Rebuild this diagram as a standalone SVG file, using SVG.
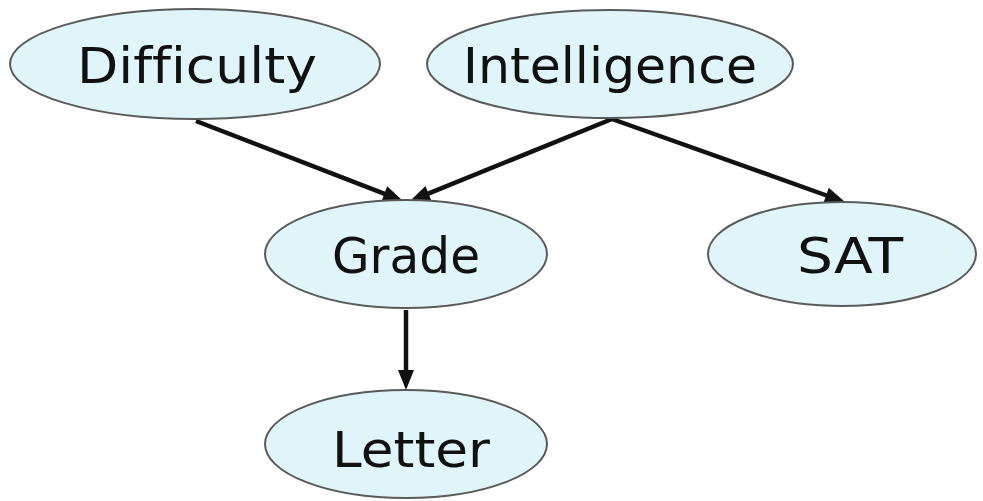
<svg xmlns="http://www.w3.org/2000/svg" width="983" height="501" viewBox="0 0 983 501">
  <style>
    .node ellipse { fill: #e0f5f9; stroke: #5a5a5a; stroke-width: 2; }
    .node text { font-family: "DejaVu Sans", "Liberation Sans", sans-serif; font-size: 50px; fill: #111; text-anchor: middle; font-variant-ligatures: none; }
    .edge { stroke: #111; stroke-width: 4.5; fill: none; }
    .head { fill: #111; stroke: none; }
  </style>
  <rect width="983" height="501" fill="#ffffff"/>

  <g id="connectors">
    <!-- Difficulty -> Grade -->
    <line class="edge" x1="196" y1="121" x2="386" y2="194.4"/>
    <polygon class="head" points="403,201 381.5,201.3 387.2,186.3"/>
    <!-- Intelligence -> Grade -->
    <line class="edge" x1="612" y1="119" x2="427" y2="194.1"/>
    <polygon class="head" points="410,201 425.5,186.1 431.5,200.9"/>
    <!-- Intelligence -> SAT -->
    <line class="edge" x1="612" y1="119" x2="828" y2="196"/>
    <polygon class="head" points="845,202 823.5,202.8 828.8,187.8"/>
    <!-- Grade -> Letter -->
    <line class="edge" x1="406" y1="310" x2="406" y2="372"/>
    <polygon class="head" points="406,390 398,370 414,370"/>
  </g>

  <g id="difficulty" class="node">
    <ellipse cx="195" cy="64" rx="185" ry="55"/>
    <text x="197" y="83" textLength="240" lengthAdjust="spacingAndGlyphs">Difficulty</text>
  </g>
  <g id="intelligence" class="node">
    <ellipse cx="610" cy="64" rx="183" ry="54"/>
    <text x="610" y="83" textLength="294" lengthAdjust="spacingAndGlyphs">Intelligence</text>
  </g>
  <g id="grade" class="node">
    <ellipse cx="406" cy="254" rx="141" ry="54"/>
    <text x="406" y="273" textLength="148" lengthAdjust="spacingAndGlyphs">Grade</text>
  </g>
  <g id="sat" class="node">
    <ellipse cx="842" cy="254" rx="134" ry="52"/>
    <text x="850" y="273" textLength="106" lengthAdjust="spacingAndGlyphs">SAT</text>
  </g>
  <g id="letter" class="node">
    <ellipse cx="406" cy="444" rx="141" ry="54"/>
    <text x="411" y="467" textLength="158" lengthAdjust="spacingAndGlyphs">Letter</text>
  </g>
</svg>
